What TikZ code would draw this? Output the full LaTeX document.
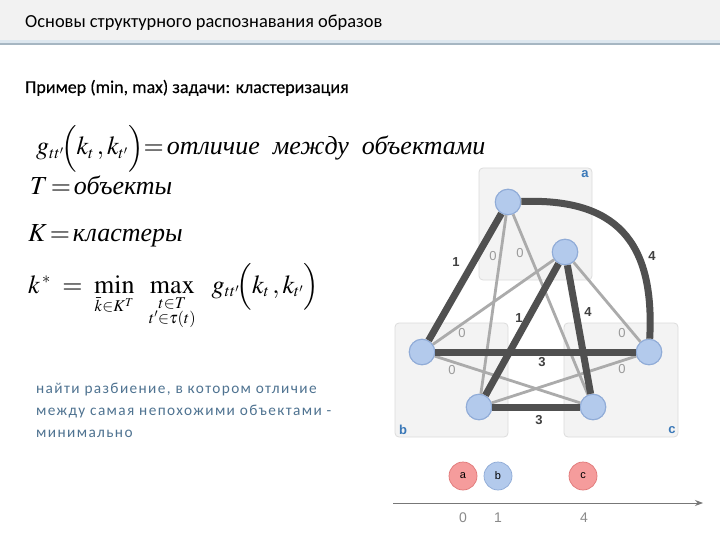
\documentclass[tikz,border=0pt]{standalone}
\usepackage{amsmath}
\usepackage{mathptmx}
\usepackage{fontspec}
\setmainfont{Liberation Serif}
\newfontfamily\carl{Carlito}
\newfontfamily\lsans{Liberation Sans}
\usetikzlibrary{arrows.meta}
\DeclareMathSizes{26}{26}{16.5}{12}
\definecolor{hdr}{HTML}{F2F2F2}
\definecolor{hdrlineA}{HTML}{DDE7EF}
\definecolor{hdrlineB}{HTML}{A6B6C2}
\definecolor{boxfill}{HTML}{F3F3F3}
\definecolor{boxline}{HTML}{DCDCDC}
\definecolor{thickc}{HTML}{505050}
\definecolor{thinc}{HTML}{ABABAB}
\definecolor{vfill}{HTML}{B3CAEC}
\definecolor{vline}{HTML}{8EAAD6}
\definecolor{rfill}{HTML}{F59C9C}
\definecolor{rline}{HTML}{E07878}
\definecolor{boxlab}{HTML}{3A78B8}
\definecolor{paracol}{HTML}{4F7391}
\definecolor{axisc}{HTML}{777777}
\definecolor{numc}{HTML}{8A8A8A}
\begin{document}
\begin{tikzpicture}[x=1pt,y=-1pt,
  clbox/.style={draw=boxline,fill=boxfill,rounded corners=4pt,line width=0.8pt},
  boxtag/.style={font=\lsans\bfseries\fontsize{13}{13}\selectfont,text=boxlab,inner sep=0pt},
  vert/.style={circle,draw=vline,fill=vfill,line width=0.7pt,minimum size=26pt,inner sep=0pt},
  heavy/.style={draw=thickc,line width=7pt},
  light/.style={draw=thinc,line width=2.8pt},
  heavylab/.style={font=\lsans\bfseries\fontsize{13}{13}\selectfont,text=thickc!80!black,inner sep=0pt},
  lightlab/.style={font=\lsans\fontsize{13}{13}\selectfont,text=thinc!90!black,inner sep=0pt},
  ball/.style={circle,line width=0.7pt,minimum size=28pt,inner sep=0pt,font=\lsans\fontsize{11}{11}\selectfont},
  fml/.style={anchor=base west,inner sep=0pt,font=\fontsize{26}{30}\selectfont}
]
\useasboundingbox (0,0) rectangle (720,540);
\fill[white] (0,0) rectangle (720,540);
% header
\fill[hdr] (0,0) rectangle (720,41);
\fill[hdrlineA] (0,40) rectangle (720,43);
\fill[hdrlineB] (0,43) rectangle (720,45.5);
\node[anchor=base west,inner sep=0pt,font=\carl\fontsize{18.4}{20}\selectfont] (title) at (25,28) {Основы структурного распознавания образов};
\node[anchor=base west,inner sep=0pt,font=\carl\addfontfeatures{FakeBold=0.25}\fontsize{18}{20}\selectfont] (sub) at (25,93) {Пример (min, max) задачи: кластеризация};
% formulas
\node[fml] (f1) at (36,155) {$g_{tt'}\!\Bigl(k_t\,,k_{t'}\Bigr)\!\!=\!\mbox{\itshape отличие\ \ между\ \ объектами}$};
\node[fml] (f2) at (30,195) {$T\!=\!\mbox{\itshape объекты}$};
\node[fml] (f3) at (28,241) {$K\!=\!\mbox{\itshape кластеры}$};
\node[fml] (f4) at (28,293) {$k^{\,*}\;=\;\min\limits_{\bar k\in K^T}\;\;\max\limits_{\substack{t\in T\\ t'\in\tau(t)}}\ \ g_{tt'}\!\Bigl(k_t\,,k_{t'}\Bigr)$};
% paragraph
\node[anchor=north west,align=left,inner sep=0pt,text=paracol,font=\carl\addfontfeatures{LetterSpace=9}\fontsize{15.3}{22}\selectfont] (para) at (36,383)
 {найти разбиение, в котором отличие\\между самая непохожими объектами -\\минимально};
% cluster boxes
\draw[clbox] (479,168) rectangle (592,280);
\draw[clbox] (395,323) rectangle (508,437);
\draw[clbox] (564,323) rectangle (678,437);
\node[boxtag] (ta) at (585,174) {a};
\node[boxtag] (tb) at (403,430) {b};
\node[boxtag] (tc) at (672,430) {c};
% vertices
\node[vert] (a1) at (508,202) {};
\node[vert] (a2) at (565,252) {};
\node[vert] (b1) at (422,352) {};
\node[vert] (b2) at (479,407) {};
\node[vert] (c1) at (649,352) {};
\node[vert] (c2) at (593,407) {};
% thin edges
\draw[light] (a1) -- (b2);
\draw[light] (a1) -- (c2);
\draw[light] (a2) -- (b1);
\draw[light] (a2) -- (c1);
\draw[light] (b1) -- (c2);
\draw[light] (b2) -- (c1);
% thick edges
\draw[heavy] (a1) -- (b1);
\draw[heavy] (a1) .. controls (615,198) and (655,240) .. (c1);
\draw[heavy] (a2) -- (b2);
\draw[heavy] (a2) -- (c2);
\draw[heavy] (b1) -- (c1);
\draw[heavy] (b2) -- (c2);
% redraw vertices on top
\foreach \v in {a1,a2,b1,b2,c1,c2}{\fill[vfill] (\v) circle (12.6pt); \draw[vline,line width=0.7pt] (\v) circle (12.6pt);}
% edge labels
\node[heavylab] (l1) at (456,262) {1};
\node[heavylab] (l2) at (652,256) {4};
\node[heavylab] (l3) at (519,318) {1};
\node[heavylab] (l4) at (588,312) {4};
\node[heavylab] (l5) at (542,362) {3};
\node[heavylab] (l6) at (539,420) {3};
\node[lightlab] (z1) at (493,256) {0};
\node[lightlab] (z2) at (520,253) {0};
\node[lightlab] (z3) at (462,333) {0};
\node[lightlab] (z4) at (622,333) {0};
\node[lightlab] (z5) at (452,370) {0};
\node[lightlab] (z6) at (622,369) {0};
% bottom scale
\node[ball,draw=rline,fill=rfill] (pa) at (463,476) {a};
\node[ball,draw=vline,fill=vfill] (pb) at (498,476) {b};
\node[ball,draw=rline,fill=rfill] (pc) at (583,476) {c};
\coordinate (ax0) at (393,503);
\coordinate (ax1) at (703,503);
\draw[axisc,line width=0.9pt,-{Stealth[length=8pt,width=6pt]}] (ax0) -- (ax1);
\node[font=\lsans\fontsize{14}{14}\selectfont,text=numc] (n0) at (463,518) {0};
\node[font=\lsans\fontsize{14}{14}\selectfont,text=numc] (n1) at (498,518) {1};
\node[font=\lsans\fontsize{14}{14}\selectfont,text=numc] (n4) at (584,518) {4};
\end{tikzpicture}
\end{document}
